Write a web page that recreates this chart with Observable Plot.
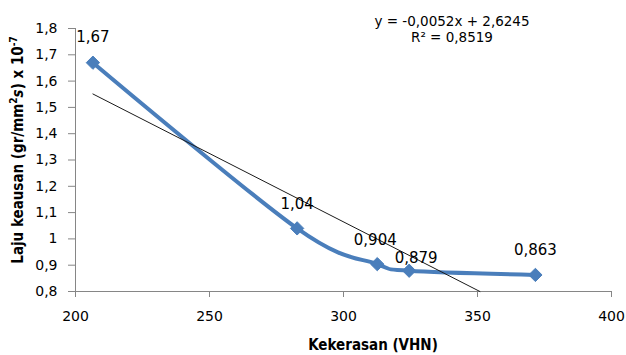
<!DOCTYPE html>
<html><head><meta charset="utf-8">
<script src="https://cdn.jsdelivr.net/npm/d3@7"></script>
<script src="https://cdn.jsdelivr.net/npm/@observablehq/plot@0.6"></script>
<style>
body{margin:0;background:#fff;}
#chart{position:relative;width:626px;height:355px;}
</style></head>
<body><div id="chart"></div>
<script>
const hardness = [206.5, 282.7, 312.6, 324.5, 371.6];
const wearRate = [1.67, 1.04, 0.904, 0.879, 0.863];
const valueLabels = ["1,67", "1,04", "0,904", "0,879", "0,863"];
const trendX = [206.5, 350.9];
const trendY = [1.551, 0.8];
const xTicks = [200, 250, 300, 350, 400];
const yTicks = [0.8, 0.9, 1.0, 1.1, 1.2, 1.3, 1.4, 1.5, 1.6, 1.7, 1.8];
const equationLines = ["y = -0,0052x + 2,6245", "R² = 0,8519"];

const pts = hardness.map((x, i) => ({x, y: wearRate[i], label: valueLabels[i]}));
const trend = trendX.map((x, i) => ({x, y: trendY[i]}));
const labelOffsets = [[0, -26], [0, -24], [-2, -24], [7, -13], [0, -25]];

const fmt = d => String(+d.toFixed(1)).replace(".", ",");
const font = "'DejaVu Sans', Verdana, sans-serif";
const titleFont = "'DejaVu Sans Condensed', 'Liberation Sans Narrow', 'Arial Narrow', 'DejaVu Sans', sans-serif";
const gray = "#868686";

const plot = Plot.plot({
  width: 626, height: 355,
  marginLeft: 75, marginRight: 15, marginTop: 28, marginBottom: 64,
  style: {fontFamily: font, fontSize: "14px", color: "#000", background: "#fff"},
  x: {domain: [200, 400], ticks: xTicks, label: null},
  y: {domain: [0.8, 1.8], ticks: yTicks, label: null},
  marks: [
    Plot.axisX({ticks: xTicks, tickSize: 6, tickPadding: 14, stroke: gray, tickFormat: d => String(d), fontSize: 14, label: null}),
    Plot.axisY({ticks: yTicks, tickSize: 7, tickPadding: 11, stroke: gray, tickFormat: fmt, fontSize: 14, label: null}),
    Plot.ruleX([200], {stroke: gray}),
    Plot.ruleY([0.8], {stroke: gray}),
    Plot.line(pts, {x: "x", y: "y", stroke: "#4A7EBB", strokeWidth: 4, curve: "cardinal", tension: 0}),
    Plot.line(trend, {x: "x", y: "y", stroke: "#1a1a1a", strokeWidth: 1}),
    Plot.dot(pts, {x: "x", y: "y", symbol: "diamond2", r: 6, fill: "#4A7EBB", stroke: "#4A7EBB", strokeWidth: 1}),
    ...pts.map((p, i) => Plot.text([p], {x: "x", y: "y", text: "label", dx: labelOffsets[i][0], dy: labelOffsets[i][1], fontSize: 15, fill: "#000"}))
  ]
});

const chart = document.getElementById("chart");
chart.appendChild(plot);
const svg = d3.select(plot);
// equation
svg.append("text").attr("x", 452).attr("y", 26).attr("text-anchor", "middle")
  .attr("font-size", 13.5).attr("font-family", font).text(equationLines[0]);
svg.append("text").attr("x", 452).attr("y", 42).attr("text-anchor", "middle")
  .attr("font-size", 13.5).attr("font-family", font).text(equationLines[1]);
// x title
svg.append("text").attr("x", 373).attr("y", 350).attr("text-anchor", "middle")
  .attr("font-size", 15).attr("font-weight", "bold").attr("font-stretch", "condensed")
  .attr("font-family", titleFont).text("Kekerasan (VHN)");
// y title
const yt = svg.append("text").attr("transform", "translate(23,150) rotate(-90)").attr("text-anchor", "middle")
  .attr("font-size", 15).attr("font-weight", "bold").attr("font-stretch", "condensed")
  .attr("font-family", titleFont);
yt.append("tspan").text("Laju keausan (gr/mm");
yt.append("tspan").attr("font-size", 10).attr("dy", -6).text("2");
yt.append("tspan").attr("dy", 6).attr("font-style", "italic").text("s");
yt.append("tspan").text(") x 10");
yt.append("tspan").attr("font-size", 10).attr("dy", -6).text("-7");
</script></body></html>
